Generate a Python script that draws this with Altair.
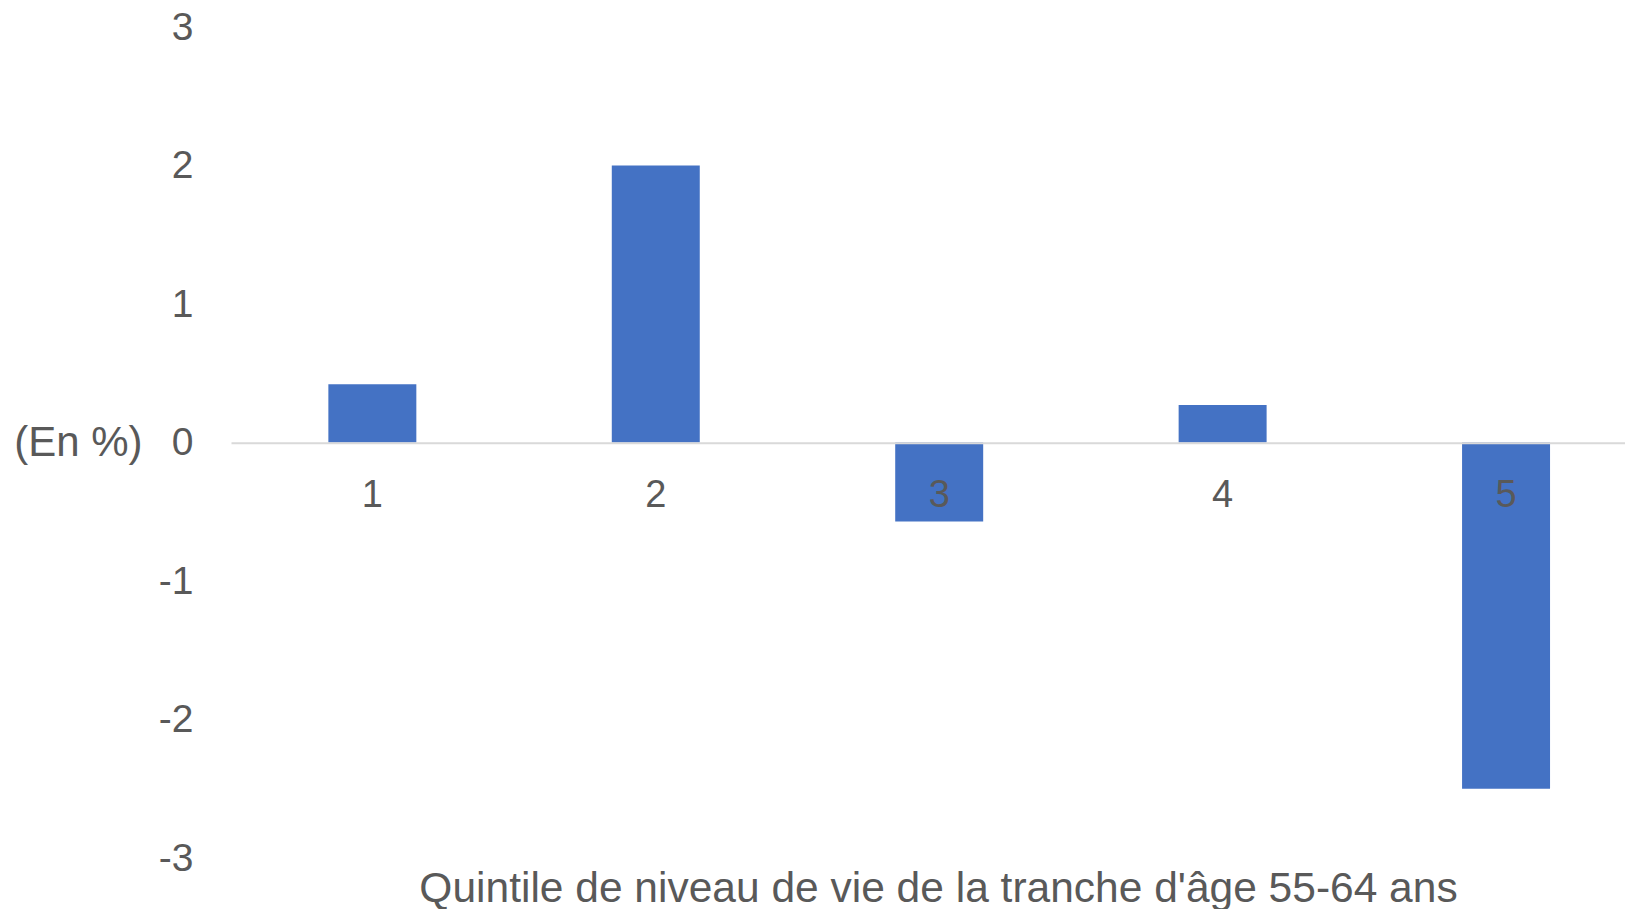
import altair as alt
import pandas as pd

quintiles = ["1", "2", "3", "4", "5"]
values = [0.42, 2.0, -0.57, 0.27, -2.50]
y_ticks = [-3, -2, -1, 0, 1, 2, 3]

df = pd.DataFrame({"q": quintiles, "v": values})

FONT = "Liberation Sans"
GREY = "#595959"

chart = alt.Chart(df).mark_bar(color="#4472C4").encode(
    x=alt.X(
        "q:N",
        sort=quintiles,
        scale=alt.Scale(paddingInner=0.6896, paddingOuter=0.304, align=0.565),
        axis=alt.Axis(
            title="Quintile de niveau de vie de la tranche d'âge 55-64 ans",
            titleFont=FONT, titleFontSize=42.5, titleColor=GREY, titleFontWeight="normal",
            titleX=707, titleY=459, titleAlign="center", titleBaseline="alphabetic",
            labelAngle=0, labelFont=FONT, labelFontSize=38, labelColor=GREY,
            labelPadding=34, labelBaseline="top",
            ticks=False, domainColor="#d9d9d9", domainWidth=2,
            offset=-415.3, zindex=1,
        ),
    ),
    y=alt.Y(
        "v:Q",
        scale=alt.Scale(domain=[-3, 3], nice=False),
        axis=alt.Axis(
            values=y_ticks, labelExpr="toString(datum.value)",
            title="(En %)", titleAngle=0, titleFont=FONT, titleFontSize=42,
            titleColor=GREY, titleFontWeight="normal",
            titleAlign="right", titleBaseline="middle", titleX=-89, titleY=415.7,
            labelFont=FONT, labelFontSize=39, labelColor=GREY, labelPadding=38,
            ticks=False, domain=False, grid=False,
        ),
    ),
).properties(
    width=1394,
    height=831,
    autosize=alt.AutoSizeParams(type="none"),
    padding={"left": 223, "top": 19, "right": 0, "bottom": 60},
).configure_view(stroke=None)

chart.save("out.html", embed_options={"renderer": "svg", "actions": False})
